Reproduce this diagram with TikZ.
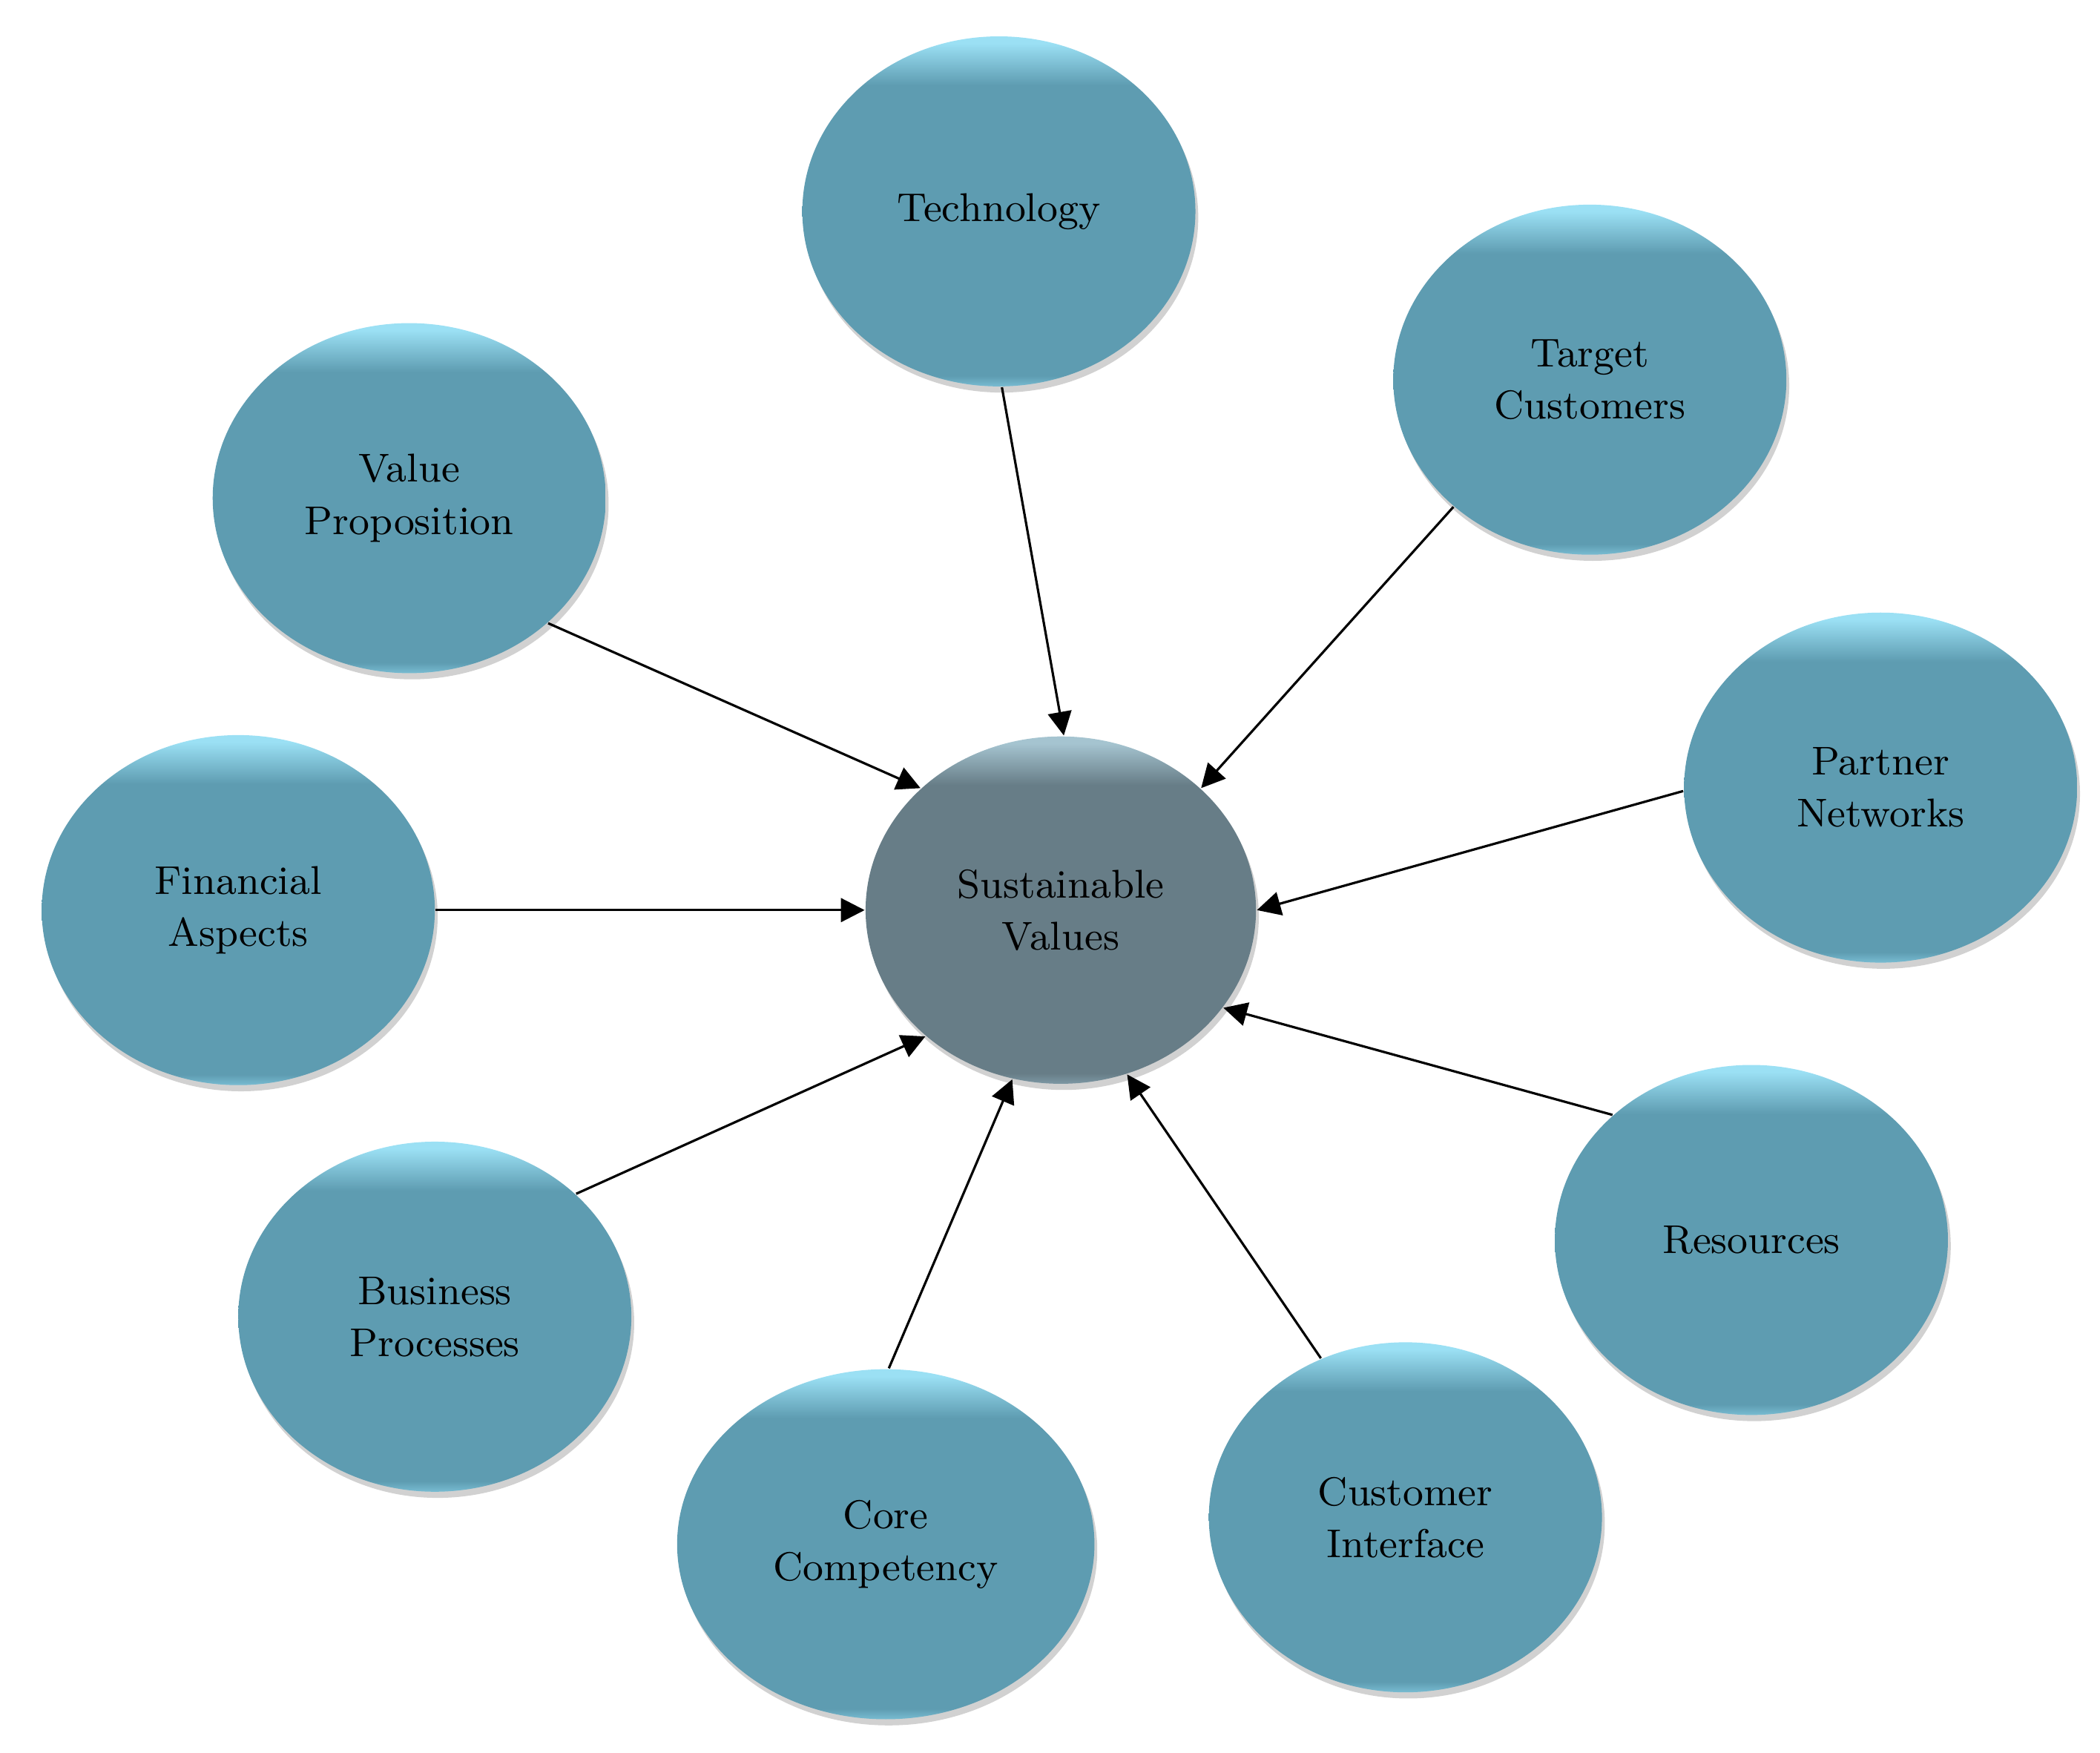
\documentclass[tikz,border=0pt]{standalone}
\usepackage{tikz}
\usetikzlibrary{arrows.meta,shapes.geometric,shadows,positioning}
\definecolor{bubbleTop}{RGB}{155,224,244}
\definecolor{bubbleMid}{RGB}{94,156,177}
\definecolor{bubbleRim}{RGB}{120,188,210}
\definecolor{ballTop}{RGB}{165,196,208}
\definecolor{ballMid}{RGB}{103,125,135}
\definecolor{ballRim}{RGB}{125,152,164}
\pgfdeclareverticalshading{bubble}{100bp}{color(0bp)=(bubbleRim); color(25bp)=(bubbleRim); color(26.5bp)=(bubbleMid); color(68bp)=(bubbleMid); color(74bp)=(bubbleTop); color(100bp)=(bubbleTop)}
\pgfdeclareverticalshading{greyball}{100bp}{color(0bp)=(ballRim); color(25bp)=(ballRim); color(26.5bp)=(ballMid); color(68bp)=(ballMid); color(74bp)=(ballTop); color(100bp)=(ballTop)}
\tikzset{
  bubblenode/.style={ellipse,shading=bubble,minimum width=2.92cm,minimum height=2.6cm,inner sep=0pt,align=center,
    font=\fontsize{8.5}{11}\selectfont,
    drop shadow={shadow xshift=0.6pt,shadow yshift=-1.3pt,opacity=0.18,fill=black}},
  centrenode/.style={bubblenode,shading=greyball,minimum width=2.9cm,minimum height=2.58cm},
  link/.style={line width=0.5pt,-{Triangle[length=5pt,width=5pt]}}
}
\begin{document}
\begin{tikzpicture}
\useasboundingbox (0,0) rectangle (15.6,-13.016);
\node[centrenode] (sv) at (7.88,-6.76) {Sustainable\\Values};
\node[bubblenode] (tech) at (7.42,-1.57) {Technology};
\node[bubblenode] (tc) at (11.81,-2.82) {Target\\Customers};
\node[bubblenode] (vp) at (3.04,-3.70) {Value\\Proposition};
\node[bubblenode] (pn) at (13.97,-5.85) {Partner\\Networks};
\node[bubblenode] (fa) at (1.77,-6.76) {Financial\\Aspects};
\node[bubblenode] (res) at (13.01,-9.21) {Resources};
\node[bubblenode] (bp) at (3.23,-9.78) {Business\\Processes};
\node[bubblenode] (ci) at (10.44,-11.27) {Customer\\Interface};
\node[bubblenode,minimum width=3.1cm] (cc) at (6.58,-11.47) {Core\\Competency};
\draw[link] (tech.-89) -- (sv.89);
\draw[link] (tc.223) -- (sv.41);
\draw[link] (vp.-42) -- (sv.139);
\draw[link] (pn.181) -- (sv.0);
\draw[link] (fa.east) -- (sv.west);
\draw[link] (res.138) -- (sv.-31);
\draw[link] (bp.41) -- (sv.223);
\draw[link] (cc.89) -- (sv.254);
\draw[link] (ci.118) -- (sv.-68);
\end{tikzpicture}
\end{document}
